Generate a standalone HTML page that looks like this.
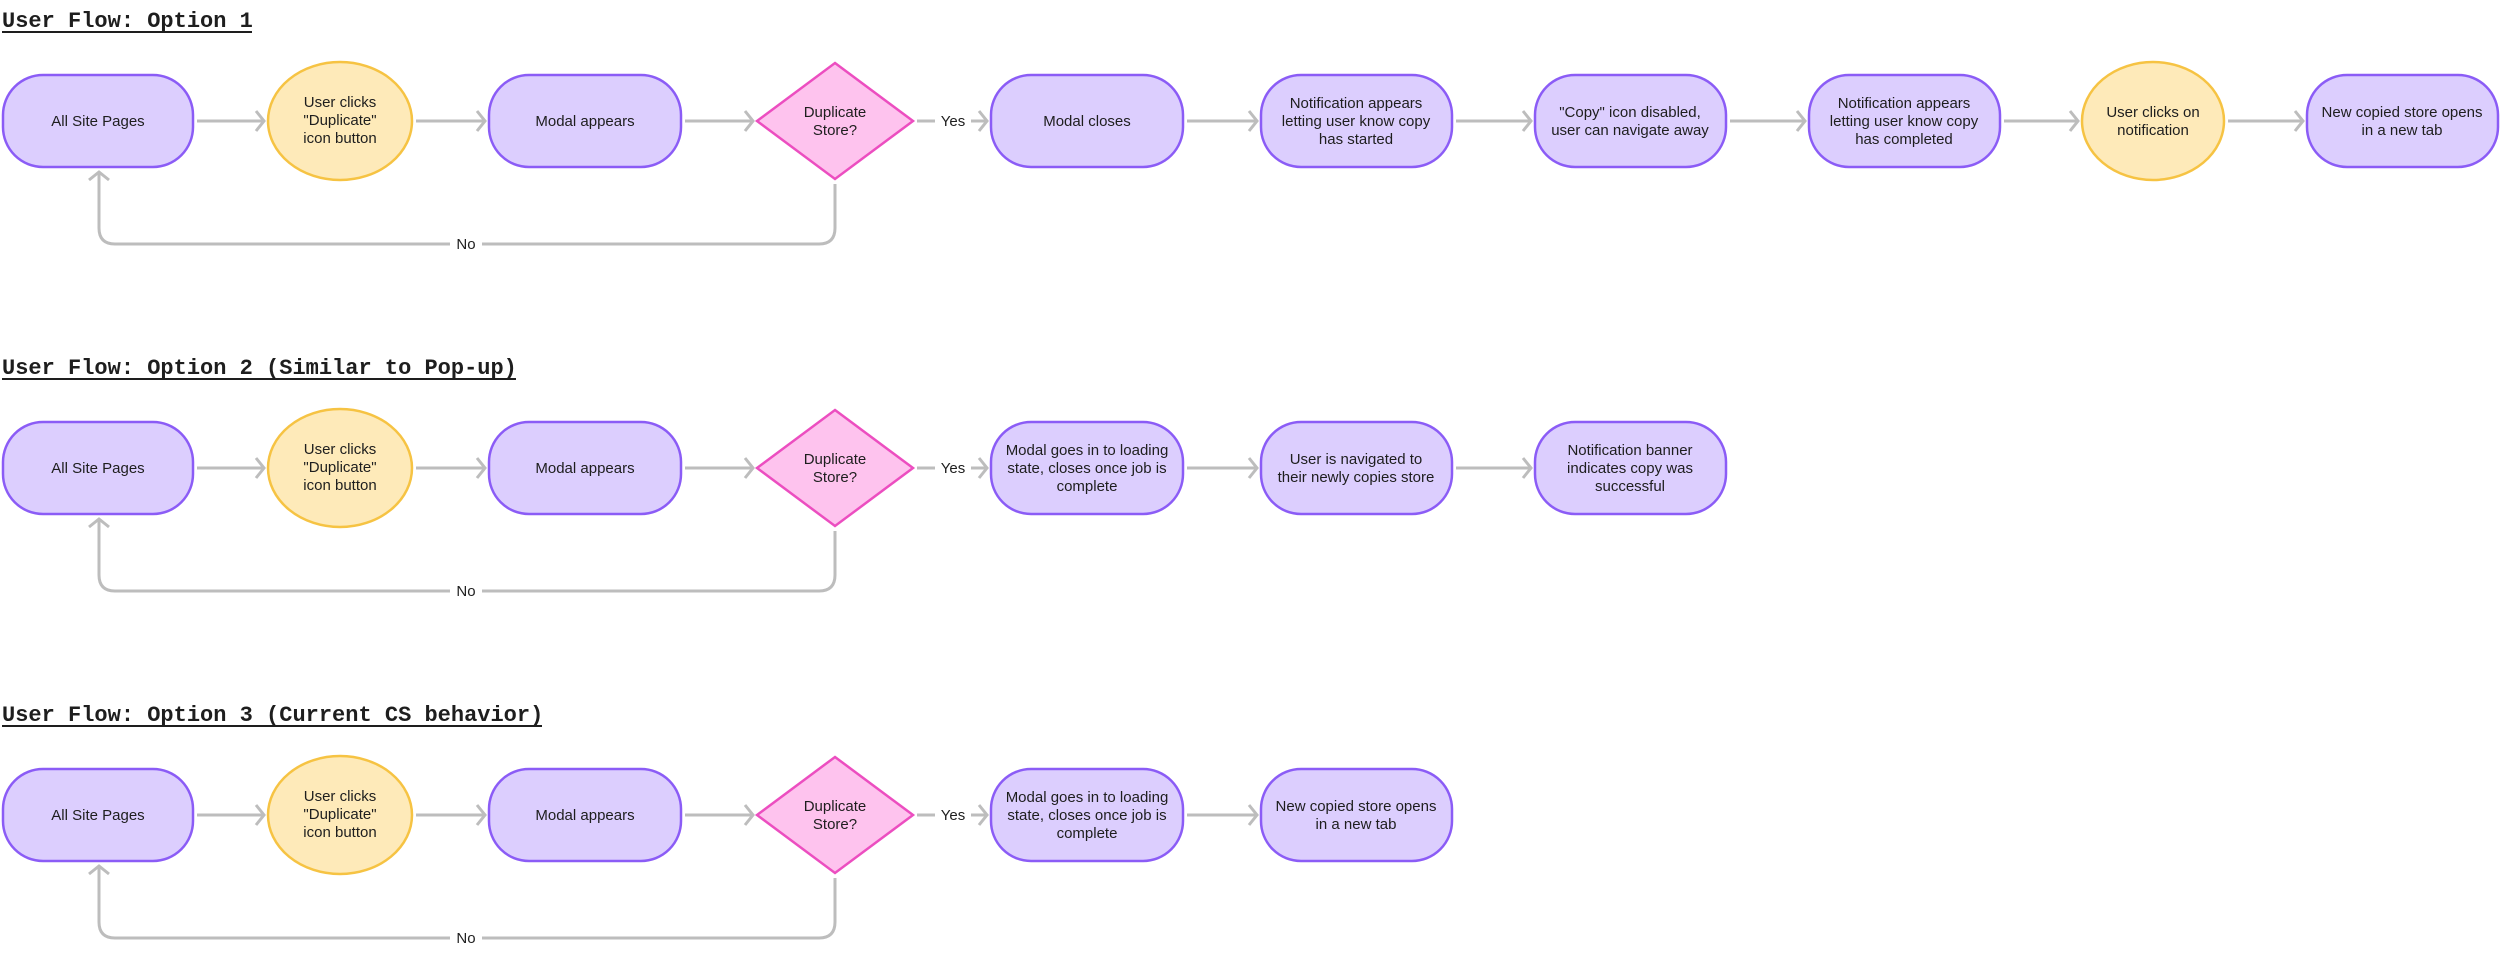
<!DOCTYPE html>
<html><head><meta charset="utf-8"><style>
html,body{margin:0;padding:0;background:#fff;}
svg{display:block;}
.t{font-family:"Liberation Sans",sans-serif;font-size:15px;fill:#1e1e1e;text-anchor:middle;}
.h{font-family:"Liberation Mono",monospace;font-size:22px;font-weight:bold;fill:#1e1e1e;}
.p{fill:#dccefe;stroke:#8b5cf6;stroke-width:2.5;}
.y{fill:#feeab9;stroke:#f6c343;stroke-width:2.5;}
.k{fill:#fec3ee;stroke:#ec4ec0;stroke-width:2.5;}
.a{stroke:#bdbdbd;stroke-width:3;fill:none;}
.l{font-family:"Liberation Sans",sans-serif;font-size:15px;fill:#1e1e1e;text-anchor:middle;}
</style></head><body>
<svg width="2500" height="953" viewBox="0 0 2500 953" xmlns="http://www.w3.org/2000/svg">
<defs>
<marker id="m" markerUnits="userSpaceOnUse" markerWidth="16" markerHeight="24" refX="10" refY="12" orient="auto">
<path d="M2,2 L10,12 L2,22" fill="none" stroke="#bdbdbd" stroke-width="3"/>
</marker>
</defs>

<!-- ROW 1 -->
<text class="h" x="2" y="27">User Flow: Option 1</text>
<line x1="2" y1="32" x2="252" y2="32" stroke="#1e1e1e" stroke-width="2"/>

<rect class="p" x="3" y="75" width="190" height="92" rx="40"/>
<text class="t" x="98" y="126">All Site Pages</text>
<ellipse class="y" cx="340" cy="121" rx="72" ry="59"/>
<text class="t" x="340" y="107">User clicks</text><text class="t" x="340" y="125">"Duplicate"</text><text class="t" x="340" y="143">icon button</text>
<rect class="p" x="489" y="75" width="192" height="92" rx="40"/>
<text class="t" x="585" y="126">Modal appears</text>
<polygon class="k" points="835,63 913,121 835,179 757,121"/>
<text class="t" x="835" y="117">Duplicate</text><text class="t" x="835" y="135">Store?</text>
<rect class="p" x="991" y="75" width="192" height="92" rx="40"/>
<text class="t" x="1087" y="126">Modal closes</text>
<rect class="p" x="1261" y="75" width="191" height="92" rx="40"/>
<text class="t" x="1356" y="108">Notification appears</text><text class="t" x="1356" y="126">letting user know copy</text><text class="t" x="1356" y="144">has started</text>
<rect class="p" x="1535" y="75" width="191" height="92" rx="40"/>
<text class="t" x="1630" y="117">"Copy" icon disabled,</text><text class="t" x="1630" y="135">user can navigate away</text>
<rect class="p" x="1809" y="75" width="191" height="92" rx="40"/>
<text class="t" x="1904" y="108">Notification appears</text><text class="t" x="1904" y="126">letting user know copy</text><text class="t" x="1904" y="144">has completed</text>
<ellipse class="y" cx="2153" cy="121" rx="71" ry="59"/>
<text class="t" x="2153" y="117">User clicks on</text><text class="t" x="2153" y="135">notification</text>
<rect class="p" x="2307" y="75" width="191" height="92" rx="40"/>
<text class="t" x="2402" y="117">New copied store opens</text><text class="t" x="2402" y="135">in a new tab</text>

<line class="a" x1="197" y1="121" x2="264" y2="121" marker-end="url(#m)"/>
<line class="a" x1="416" y1="121" x2="485" y2="121" marker-end="url(#m)"/>
<line class="a" x1="685" y1="121" x2="753" y2="121" marker-end="url(#m)"/>
<line class="a" x1="917" y1="121" x2="935" y2="121"/>
<text class="l" x="953" y="126">Yes</text>
<line class="a" x1="971" y1="121" x2="987" y2="121" marker-end="url(#m)"/>
<line class="a" x1="1187" y1="121" x2="1257" y2="121" marker-end="url(#m)"/>
<line class="a" x1="1456" y1="121" x2="1531" y2="121" marker-end="url(#m)"/>
<line class="a" x1="1730" y1="121" x2="1805" y2="121" marker-end="url(#m)"/>
<line class="a" x1="2004" y1="121" x2="2078" y2="121" marker-end="url(#m)"/>
<line class="a" x1="2228" y1="121" x2="2303" y2="121" marker-end="url(#m)"/>
<path class="a" d="M835,184 V228 Q835,244 819,244 H115 Q99,244 99,228 V172" marker-end="url(#m)"/>
<rect x="450" y="234" width="32" height="20" fill="#fff"/>
<text class="l" x="466" y="249">No</text>

<!-- ROW 2 -->
<text class="h" x="2" y="374">User Flow: Option 2 (Similar to Pop-up)</text>
<line x1="2" y1="379" x2="516" y2="379" stroke="#1e1e1e" stroke-width="2"/>

<rect class="p" x="3" y="422" width="190" height="92" rx="40"/>
<text class="t" x="98" y="473">All Site Pages</text>
<ellipse class="y" cx="340" cy="468" rx="72" ry="59"/>
<text class="t" x="340" y="454">User clicks</text><text class="t" x="340" y="472">"Duplicate"</text><text class="t" x="340" y="490">icon button</text>
<rect class="p" x="489" y="422" width="192" height="92" rx="40"/>
<text class="t" x="585" y="473">Modal appears</text>
<polygon class="k" points="835,410 913,468 835,526 757,468"/>
<text class="t" x="835" y="464">Duplicate</text><text class="t" x="835" y="482">Store?</text>
<rect class="p" x="991" y="422" width="192" height="92" rx="40"/>
<text class="t" x="1087" y="455">Modal goes in to loading</text><text class="t" x="1087" y="473">state, closes once job is</text><text class="t" x="1087" y="491">complete</text>
<rect class="p" x="1261" y="422" width="191" height="92" rx="40"/>
<text class="t" x="1356" y="464">User is navigated to</text><text class="t" x="1356" y="482">their newly copies store</text>
<rect class="p" x="1535" y="422" width="191" height="92" rx="40"/>
<text class="t" x="1630" y="455">Notification banner</text><text class="t" x="1630" y="473">indicates copy was</text><text class="t" x="1630" y="491">successful</text>

<line class="a" x1="197" y1="468" x2="264" y2="468" marker-end="url(#m)"/>
<line class="a" x1="416" y1="468" x2="485" y2="468" marker-end="url(#m)"/>
<line class="a" x1="685" y1="468" x2="753" y2="468" marker-end="url(#m)"/>
<line class="a" x1="917" y1="468" x2="935" y2="468"/>
<text class="l" x="953" y="473">Yes</text>
<line class="a" x1="971" y1="468" x2="987" y2="468" marker-end="url(#m)"/>
<line class="a" x1="1187" y1="468" x2="1257" y2="468" marker-end="url(#m)"/>
<line class="a" x1="1456" y1="468" x2="1531" y2="468" marker-end="url(#m)"/>
<path class="a" d="M835,531 V575 Q835,591 819,591 H115 Q99,591 99,575 V519" marker-end="url(#m)"/>
<rect x="450" y="581" width="32" height="20" fill="#fff"/>
<text class="l" x="466" y="596">No</text>

<!-- ROW 3 -->
<text class="h" x="2" y="721">User Flow: Option 3 (Current CS behavior)</text>
<line x1="2" y1="726" x2="542" y2="726" stroke="#1e1e1e" stroke-width="2"/>

<rect class="p" x="3" y="769" width="190" height="92" rx="40"/>
<text class="t" x="98" y="820">All Site Pages</text>
<ellipse class="y" cx="340" cy="815" rx="72" ry="59"/>
<text class="t" x="340" y="801">User clicks</text><text class="t" x="340" y="819">"Duplicate"</text><text class="t" x="340" y="837">icon button</text>
<rect class="p" x="489" y="769" width="192" height="92" rx="40"/>
<text class="t" x="585" y="820">Modal appears</text>
<polygon class="k" points="835,757 913,815 835,873 757,815"/>
<text class="t" x="835" y="811">Duplicate</text><text class="t" x="835" y="829">Store?</text>
<rect class="p" x="991" y="769" width="192" height="92" rx="40"/>
<text class="t" x="1087" y="802">Modal goes in to loading</text><text class="t" x="1087" y="820">state, closes once job is</text><text class="t" x="1087" y="838">complete</text>
<rect class="p" x="1261" y="769" width="191" height="92" rx="40"/>
<text class="t" x="1356" y="811">New copied store opens</text><text class="t" x="1356" y="829">in a new tab</text>

<line class="a" x1="197" y1="815" x2="264" y2="815" marker-end="url(#m)"/>
<line class="a" x1="416" y1="815" x2="485" y2="815" marker-end="url(#m)"/>
<line class="a" x1="685" y1="815" x2="753" y2="815" marker-end="url(#m)"/>
<line class="a" x1="917" y1="815" x2="935" y2="815"/>
<text class="l" x="953" y="820">Yes</text>
<line class="a" x1="971" y1="815" x2="987" y2="815" marker-end="url(#m)"/>
<line class="a" x1="1187" y1="815" x2="1257" y2="815" marker-end="url(#m)"/>
<path class="a" d="M835,878 V922 Q835,938 819,938 H115 Q99,938 99,922 V866" marker-end="url(#m)"/>
<rect x="450" y="928" width="32" height="20" fill="#fff"/>
<text class="l" x="466" y="943">No</text>
</svg>
</body></html>
